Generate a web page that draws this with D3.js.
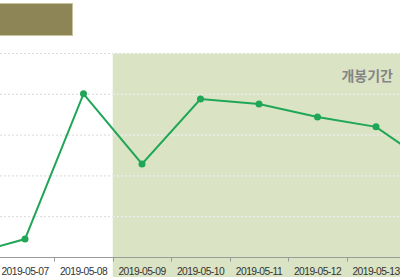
<!DOCTYPE html>
<html>
<head>
<meta charset="utf-8">
<script src="https://cdn.jsdelivr.net/npm/d3@7"></script>
<style>
  html, body { margin: 0; padding: 0; background: #fff; }
  svg { display: block; font-family: "Liberation Sans", "Noto Sans CJK KR", sans-serif; }
</style>
</head>
<body>
<svg id="chart" width="400" height="280"></svg>
<script>
// 일별 추이 (앞뒤 날짜는 화면 밖으로 잘려 있음)
var dates = ["2019-05-06", "2019-05-07", "2019-05-08", "2019-05-09", "2019-05-10", "2019-05-11", "2019-05-12", "2019-05-13", "2019-05-14"];
var values = [0.4, 4.4, 40, 22.8, 38.7, 37.5, 34.3, 31.9, 22];
var gridTicks = [10, 20, 30, 40, 50];
var periodStart = "2019-05-09";
var periodLabel = "개봉기간";

var svg = d3.select("#chart");
var W = 400, H = 280;
var step = 58.5, first = -62.75;

var x = d3.scaleBand().domain(dates).range([first, first + step * dates.length]).padding(0);
var y = d3.scaleLinear().domain([0, 50]).range([257, 53]);

// 개봉기간 음영
var px0 = x(periodStart);
svg.append("rect").attr("x", px0).attr("y", y(50)).attr("width", W - px0).attr("height", 277 - y(50)).attr("fill", "#dae4c4");

// grid
svg.append("g").selectAll("line").data(gridTicks).join("line")
  .attr("x1", 0).attr("x2", W).attr("y1", function (d) { return y(d) + .5; }).attr("y2", function (d) { return y(d) + .5; })
  .attr("stroke", "#d9d9d9").attr("stroke-width", 1).attr("stroke-dasharray", "2,2");
// 음영 위 그리드는 흰 점선처럼 보임
svg.append("g").selectAll("line").data(gridTicks).join("line")
  .attr("x1", px0).attr("x2", W).attr("y1", function (d) { return y(d) + .5; }).attr("y2", function (d) { return y(d) + .5; })
  .attr("stroke", "#f4f6ee").attr("stroke-width", 1).attr("stroke-dasharray", "2,2");

// x axis (ticks on band boundaries)
var ax = svg.append("g").attr("transform", "translate(0," + (y(0) + .5) + ")");
ax.append("line").attr("x1", 0).attr("x2", W).attr("stroke", "#9a9a9a");
ax.selectAll("line.tk").data(dates.slice(1)).join("line").attr("class", "tk")
  .attr("x1", function (d) { return Math.round(x(d)) + .5; }).attr("x2", function (d) { return Math.round(x(d)) + .5; })
  .attr("y1", 0).attr("y2", 4).attr("stroke", "#9a9a9a");
ax.selectAll("text").data(dates).join("text")
  .attr("x", function (d) { return x(d) + x.bandwidth() / 2; }).attr("y", 17)
  .attr("text-anchor", "middle").attr("font-size", 10.3).attr("letter-spacing", -0.55)
  .attr("fill", "#333").text(function (d) { return d; });

// period label
svg.append("text").attr("x", 393).attr("y", 81).attr("text-anchor", "end")
  .attr("font-family", "'Noto Sans CJK KR', sans-serif").attr("font-size", 14).attr("font-weight", 700)
  .attr("fill", "#858585").text(periodLabel);

// legend swatch (잘린 범례)
svg.append("rect").attr("x", -1).attr("y", 3.5).attr("width", 73.5).attr("height", 32)
  .attr("fill", "#8d8556").attr("stroke", "#c8c39c").attr("stroke-width", 1);

// line + points
var line = d3.line().x(function (d, i) { return x(dates[i]) + x.bandwidth() / 2; }).y(function (d) { return y(d); });
svg.append("path").datum(values).attr("d", line).attr("fill", "none").attr("stroke", "#1fa657").attr("stroke-width", 2);
svg.append("g").selectAll("circle").data(values).join("circle")
  .attr("cx", function (d, i) { return x(dates[i]) + x.bandwidth() / 2; }).attr("cy", function (d) { return y(d); })
  .attr("r", 3.5).attr("fill", "#1fa657");
</script>
</body>
</html>
